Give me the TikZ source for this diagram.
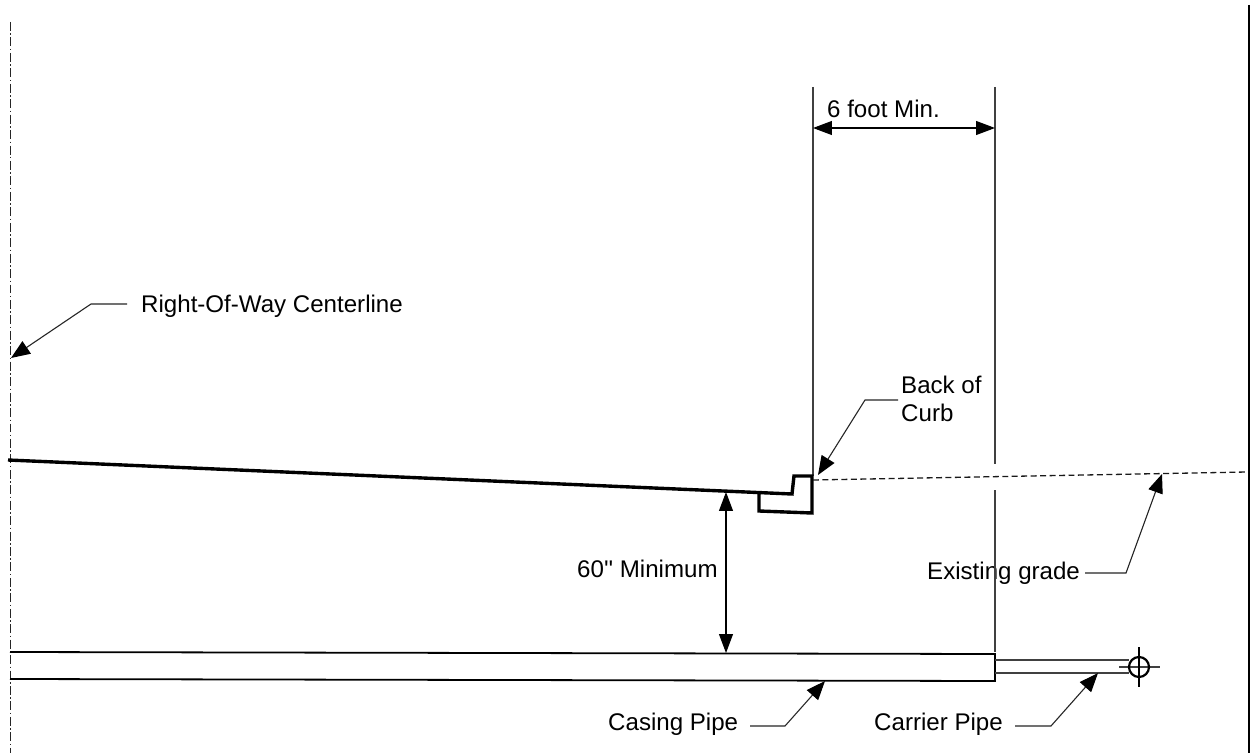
\documentclass[tikz,border=0pt]{standalone}
\usepackage{fontspec}
\setmainfont{Liberation Sans}
\usetikzlibrary{arrows.meta}
\tikzset{
  x=1bp,y=-1bp,
  lbl/.style={inner sep=0pt,anchor=base west,font=\fontsize{24.1bp}{28bp}\selectfont,align=left,text=black},
  thin line/.style={draw=black!75,line width=1.1pt},
  heavy/.style={draw=black,line width=3.4pt,line join=miter},
  pipe/.style={draw=black,line width=1.8pt},
  frameline/.style={draw=black,line width=2.4pt},
  leader/.style={draw=black!85,line width=1.1pt,-{Triangle[length=19pt,width=15pt,color=black,fill=black]}},
  dim/.style={draw=black,line width=1.1pt,{Triangle[length=19pt,width=14pt]}-{Triangle[length=19pt,width=14pt]}},
  center line/.style={draw=black!85,line width=1pt,dash pattern=on 9pt off 2.5pt on 1.5pt off 2.5pt},
  grade/.style={draw=black!90,line width=1.3pt,dash pattern=on 6pt off 3.5pt},
}
\begin{document}
\begin{tikzpicture}
\useasboundingbox (0,0) rectangle (1253,753);
\fill[white] (0,0) rectangle (1253,753);
% reference coordinates
\coordinate (clTop) at (10.5,22);
\coordinate (clBot) at (10.5,753);
\coordinate (clTip) at (11,358);
\coordinate (edgeA) at (1249,5);
\coordinate (edgeB) at (1249,753);
\coordinate (gradeL) at (8,460);
\coordinate (curbA) at (759,492);
\coordinate (curbB) at (792,494);
\coordinate (curbC) at (794,476);
\coordinate (curbD) at (812,476);
\coordinate (curbE) at (812,513);
\coordinate (curbF) at (759,511);
\coordinate (backTop) at (813,87);
\coordinate (backBot) at (813,476);
\coordinate (sixTop) at (995,87);
\coordinate (sixMid) at (995,464);
\coordinate (sixLow) at (995,490);
\coordinate (sixBot) at (995,652);
\coordinate (dimL) at (813,128);
\coordinate (dimR) at (995,128);
\coordinate (gradeA) at (813,480);
\coordinate (gradeB) at (1247,472);
\coordinate (gradeTip) at (1162,474);
\coordinate (curbTip) at (818,475);
\coordinate (minTop) at (726,492);
\coordinate (minBot) at (726,653);
\coordinate (casTL) at (10,652);
\coordinate (casTR) at (995,654);
\coordinate (casBR) at (995,681);
\coordinate (casBL) at (10,679);
\coordinate (carTL) at (995,660);
\coordinate (carTR) at (1129,660);
\coordinate (carBL) at (995,673);
\coordinate (carBR) at (1129,673);
\coordinate (hL) at (1119,667);
\coordinate (hR) at (1160,667);
\coordinate (vT) at (1139,647);
\coordinate (vB) at (1139,687);
\coordinate (casTip) at (825,681);
\coordinate (carTip) at (1098,673);
% centreline
\draw[center line] (clTop) -- (clBot);
% dimension and witness lines
\draw[thin line] (backTop) -- (backBot);
\draw[thin line] (sixTop) -- (sixMid);
\draw[dim] (dimL) -- (dimR);
\draw[dim] (minTop) -- (minBot);
% grade and curb
\draw[heavy] (gradeL) -- (curbB) -- (curbC) -- (curbD) -- (curbE) -- (curbF) -- (curbA);
\draw[grade] (gradeA) -- (gradeB);
% pipes
\draw[pipe] (casTL) -- (casTR) -- (casBR) -- (casBL);
\draw[thin line] (carTL) -- (carTR);
\draw[thin line] (carBL) -- (carBR);
\draw[thin line] (hL) -- (hR);
\draw[draw=black,line width=1.1pt] (vT) -- (vB);
\node[draw=black,line width=2.2pt,circle,minimum size=20bp,inner sep=0pt] (carCircle) at (1139,667) {};
% labels
\node[lbl] (six) at (827,118) {6 foot Min.};
\node[lbl] (row) at (141,312) {Right-Of-Way Centerline};
\node[lbl] (back) at (901,393) {Back of};
\node[lbl] (curb) at (901,421) {Curb};
\node[lbl] (sixty) at (577,577) {60\textquotesingle\textquotesingle\ Minimum};
\node[lbl] (exist) at (927,579) {Existing grade};
\node[lbl] (casing) at (608,730) {Casing Pipe};
\node[lbl] (carrier) at (874,730) {Carrier Pipe};
\draw[thin line] (sixLow) -- (sixBot);
% leaders
\coordinate (l1a) at (127,304); \coordinate (l1b) at (91,304);
\coordinate (l2a) at (898,400); \coordinate (l2b) at (865,400);
\coordinate (l3a) at (1126,573); \coordinate (l3b) at (1085,573);
\coordinate (l4a) at (750,726); \coordinate (l4b) at (785,726);
\coordinate (l5a) at (1015,726); \coordinate (l5b) at (1051,726);
\draw[leader] (l1a) -- (l1b) -- (clTip);
\draw[leader] (l2a) -- (l2b) -- (curbTip);
\draw[leader] (l3b) -- (l3a) -- (gradeTip);
\draw[leader] (l4a) -- (l4b) -- (casTip);
\draw[leader] (l5a) -- (l5b) -- (carTip);
% right-hand frame line
\draw[frameline] (edgeA) -- (edgeB);
\end{tikzpicture}
\end{document}
